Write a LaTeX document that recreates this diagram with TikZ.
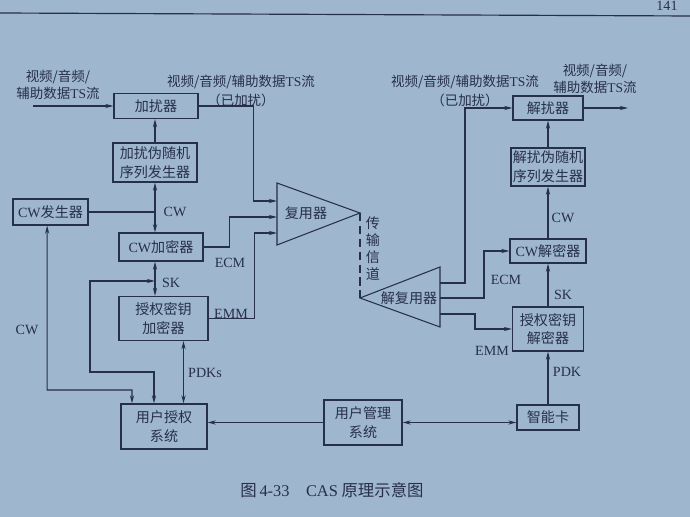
\documentclass[tikz,border=0pt]{standalone}
\usepackage{fontspec}
\setmainfont{Liberation Serif}
\newfontfamily\cjk{Noto Sans CJK SC}
\usetikzlibrary{arrows.meta}
\definecolor{casbg}{RGB}{158,182,206}
\definecolor{casink}{RGB}{38,48,72}

\begin{document}
\begin{tikzpicture}[x=0.03cm,y=-0.03cm,line width=0.9pt,casink,>={Stealth[length=7pt,width=3.5pt]},
    blk/.style={draw,inner sep=0pt,align=center,font=\cjk\fontsize{12}{16}\selectfont},
    lbl/.style={inner sep=0pt,align=center,font=\cjk\fontsize{11.5}{14}\selectfont},
    sig/.style={inner sep=0pt,font=\fontsize{12}{14}\selectfont}]
    \path[use as bounding box,fill=casbg] (0,0) rectangle (690,517);
    \draw[line width=1pt] (0,13) -- (690,16);\node[sig] (pgno) at (667,6) {141};

    \node[blk,minimum width=2.52cm,minimum height=0.75cm] (jr) at (156,106) {加扰器};
    \node[blk,minimum width=2.52cm,minimum height=1.17cm] (jrprng) at (155,162.5) {加扰伪随机\\序列发生器};
    \node[blk,minimum width=2.25cm,minimum height=0.78cm] (cwgen) at (50.5,212) {\textrm{CW}发生器};
    \node[blk,minimum width=2.52cm,minimum height=0.84cm] (cwenc) at (161,247) {\textrm{CW}加密器};
    \node[blk,minimum width=2.67cm,minimum height=1.32cm] (skenc) at (163.5,318.5) {授权密钥\\加密器};
    \node[blk,minimum width=2.58cm,minimum height=1.35cm] (uas) at (164,426.5) {用户授权\\系统};
    \node[blk,minimum width=2.34cm,minimum height=1.35cm] (ums) at (363,422.5) {用户管理\\系统};
    \node[blk,minimum width=1.86cm,minimum height=0.75cm] (card) at (548,417.5) {智能卡};
    \node[blk,minimum width=2.1cm,minimum height=0.72cm] (djr) at (548,108) {解扰器};
    \node[blk,minimum width=2.22cm,minimum height=1.14cm] (djrprng) at (548,167) {解扰伪随机\\序列发生器};
    \node[blk,minimum width=2.28cm,minimum height=0.72cm] (cwdec) at (548,251) {\textrm{CW}解密器};
    \node[blk,minimum width=2.13cm,minimum height=1.32cm] (skdec) at (548,329) {授权密钥\\解密器};

    \coordinate (mxt) at (277,183);\coordinate (mxb) at (277,245);\coordinate (mxa) at (360,213);
    \draw (mxt) -- (mxa) -- (mxb) -- cycle;\node[lbl,font=\cjk\fontsize{12}{14}\selectfont] (mux) at (306,213) {复用器};
    \coordinate (dmxt) at (440,267);\coordinate (dmxb) at (440,327);\coordinate (dmxa) at (360,298);
    \draw (dmxt) -- (dmxa) -- (dmxb) -- cycle;\node[lbl,font=\cjk\fontsize{12}{14}\selectfont] (dmux) at (409,298) {解复用器};
    \draw[dash pattern=on 7pt off 4pt] (mxa) -- (dmxa);
    \node[lbl,font=\cjk\fontsize{12}{14.5}\selectfont] (chan) at (373,249) {传\\输\\信\\道};
    \coordinate (muxin1) at (277,201);\coordinate (muxin2) at (277,217);\coordinate (muxin3) at (277,233);
    \coordinate (dmxo1) at (440,283);\coordinate (dmxo2) at (440,298);\coordinate (dmxo3) at (440,314);

    \coordinate (src) at (33,106);\coordinate (sink) at (628,108);
    \coordinate (cwjn) at (155,212);\coordinate (skjn) at (155,281);
    \draw[->] (src) -- (jr.west);
    \draw[->] (jr.east) -- ++(55,0) |- (muxin1);
    \draw[->] (jrprng.north) -- (jrprng.north |- jr.south);
    \draw (cwgen.east) -- (cwjn);
    \draw[->] (cwjn) -- (cwjn |- jrprng.south);
    \draw[->] (cwjn) -- (cwjn |- cwenc.north);
    \draw[<->] (cwjn |- cwenc.south) -- (cwjn |- skenc.north);
    \draw[<->] (skjn) -| (90,372) -| ([xshift=-0.3cm]uas.north);
    \draw[<->] ([xshift=-0.1cm]cwgen.south) |- (132,390) -- ([xshift=-0.96cm]uas.north);
    \draw[<->] ([xshift=0.6cm]skenc.south) -- ([xshift=0.6cm]skenc.south |- uas.north);
    \draw[->] (cwenc.east) -- ++(26,0) |- (muxin2);
    \draw[->] (skenc.east) -- ++(46,0) |- (muxin3);
    \draw[->] (ums.west) -- (ums.west -| uas.east);
    \draw[<->] (ums.east) -- (ums.east -| card.west);

    \draw[->] (dmxo1) -- (465,283) |- (djr.west);
    \draw[->] (dmxo2) -- (484,298) |- (cwdec.west);
    \draw[->] (dmxo3) -- (475,314) |- (skdec.west);
    \draw[->] (djr.east) -- (sink);
    \draw[->] (djrprng.north) -- (djr.south);
    \draw[->] (cwdec.north) -- (djrprng.south);
    \draw[->] (skdec.north) -- (cwdec.south);
    \draw[->] (card.north) -- (skdec.south);

    \node[lbl] (lblsrc) at (58,85) {视频/音频/\\辅助数据\textrm{TS}流};
    \node[lbl] (lblscr) at (241,91) {视频/音频/辅助数据\textrm{TS}流\\[2pt]（已加扰）};
    \node[lbl] (lblrcv) at (465,91) {视频/音频/辅助数据\textrm{TS}流\\[2pt]（已加扰）};
    \node[lbl] (lblout) at (595,79) {视频/音频/\\辅助数据\textrm{TS}流};
    \node[sig] (lcw1) at (175,212) {CW};\node[sig] (lecm1) at (230,263) {ECM};
    \node[sig] (lsk1) at (171,283) {SK};\node[sig] (lemm1) at (231,314) {EMM};
    \node[sig] (lcw0) at (27,330) {CW};\node[sig] (lpdks) at (205,373) {PDKs};
    \node[sig] (lcw2) at (563,218) {CW};\node[sig] (lsk2) at (563,295) {SK};
    \node[sig] (lecm2) at (506,280) {ECM};\node[sig] (lemm2) at (492,351) {EMM};
    \node[sig] (lpdk) at (567,372) {PDK};
    \node[lbl,font=\cjk\fontsize{14}{16}\selectfont] (cap) at (332,490) {图\,\textrm{4-33}\quad\textrm{CAS} 原理示意图};
  \end{tikzpicture}
\end{document}
